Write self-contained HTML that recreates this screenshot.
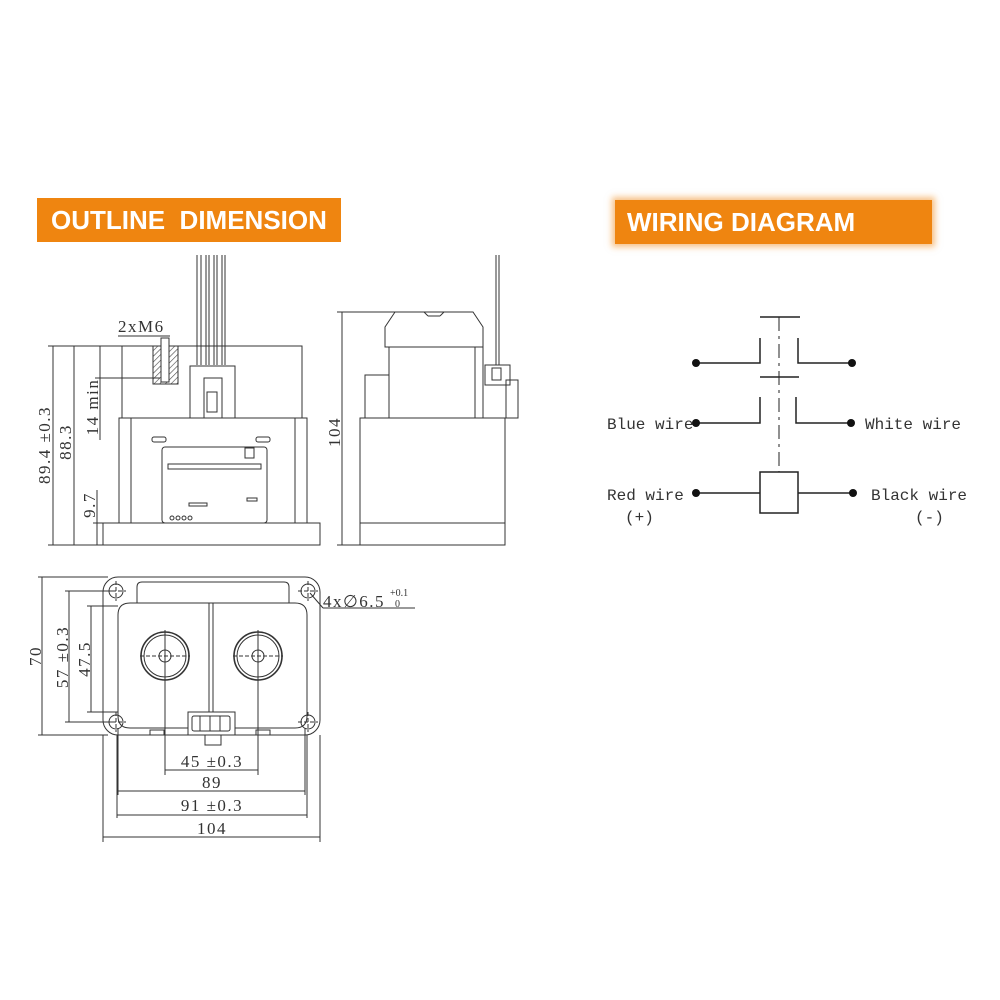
<!DOCTYPE html>
<html><head><meta charset="utf-8">
<style>
html,body{margin:0;padding:0;background:#fff;}
.ban{position:absolute;background:#ef8510;color:#fff;font-family:"Liberation Sans",sans-serif;font-weight:bold;font-size:26px;line-height:44px;transform-origin:left;}
</style></head>
<body>
<div style="position:relative;width:1000px;height:1000px;overflow:hidden;">
<div class="ban" style="left:37px;top:198px;width:304px;height:44px;padding-left:14px;box-sizing:border-box;letter-spacing:0px;">OUTLINE&nbsp; DIMENSION</div>
<div class="ban" style="left:615px;top:200px;width:317px;height:44px;padding-left:12px;box-sizing:border-box;box-shadow:0 0 6px 3px rgba(239,133,16,0.5);">WIRING DIAGRAM</div>
<svg width="1000" height="1000" style="position:absolute;left:0;top:0" xmlns="http://www.w3.org/2000/svg">
<defs>
<pattern id="h" width="4" height="4" patternUnits="userSpaceOnUse" patternTransform="rotate(45)"><line x1="0" y1="0" x2="0" y2="4" stroke="#444" stroke-width="1.2"/></pattern>
</defs>
<g fill="none" stroke="#333" stroke-width="1">
<rect x="122" y="346" width="180" height="72"/>
<rect x="119" y="418" width="188" height="105"/>
<line x1="131" y1="418" x2="131" y2="523"/><line x1="295" y1="418" x2="295" y2="523"/>
<rect x="103" y="523" width="217" height="22"/>
<rect x="162" y="447" width="105" height="76" rx="3"/>
<rect x="152" y="437" width="14" height="5" rx="2"/><rect x="256" y="437" width="14" height="5" rx="2"/>
<rect x="168" y="464" width="93" height="5"/>
<rect x="245" y="448" width="9" height="10"/>
<rect x="189" y="503" width="18" height="3"/><rect x="247" y="498" width="10" height="3"/>
<circle cx="172" cy="518" r="2"/><circle cx="178" cy="518" r="2"/><circle cx="184" cy="518" r="2"/><circle cx="190" cy="518" r="2"/>
<rect x="153" y="346" width="25" height="38" fill="url(#h)"/>
<rect x="161" y="338" width="8" height="44" fill="#fff"/>
<line x1="118" y1="336" x2="170" y2="336"/>
<line x1="197" y1="255" x2="197" y2="365"/><line x1="201" y1="255" x2="201" y2="365"/>
<line x1="206" y1="255" x2="206" y2="365"/><line x1="209" y1="255" x2="209" y2="365"/>
<line x1="214" y1="255" x2="214" y2="365"/><line x1="217" y1="255" x2="217" y2="365"/>
<line x1="222" y1="255" x2="222" y2="365"/><line x1="225" y1="255" x2="225" y2="365"/>
<rect x="190" y="366" width="45" height="52" fill="#fff"/>
<rect x="204" y="378" width="18" height="40"/>
<rect x="207" y="392" width="10" height="20"/>
<line x1="53" y1="346" x2="53" y2="545"/><line x1="48" y1="346" x2="122" y2="346"/>
<line x1="48" y1="545" x2="103" y2="545"/>
<line x1="74" y1="346" x2="74" y2="545"/>
<line x1="100" y1="346" x2="100" y2="440"/><line x1="95" y1="378" x2="160" y2="378"/>
<line x1="97" y1="490" x2="97" y2="545"/><line x1="93" y1="523" x2="103" y2="523"/>
<line x1="342" y1="312" x2="342" y2="545"/><line x1="337" y1="312" x2="395" y2="312"/><line x1="337" y1="545" x2="360" y2="545"/>
<polyline points="395,312 473,312 483,327 483,347 385,347 385,327 395,312"/>
<line x1="424" y1="312" x2="428" y2="316"/><line x1="440" y1="316" x2="428" y2="316"/><line x1="440" y1="316" x2="444" y2="312"/>
<rect x="389" y="347" width="86" height="71"/>
<polyline points="389,375 365,375 365,418"/>
<line x1="483" y1="347" x2="483" y2="418"/>
<rect x="360" y="418" width="145" height="127"/>
<line x1="360" y1="523" x2="505" y2="523"/>
<line x1="496" y1="255" x2="496" y2="365"/><line x1="499" y1="255" x2="499" y2="365"/>
<rect x="485" y="365" width="25" height="20"/><rect x="492" y="368" width="9" height="12"/>
<rect x="506" y="380" width="12" height="38"/>
<rect x="103" y="577" width="217" height="158" rx="15"/>
<path d="M137,603 L137,587 Q137,582 142,582 L284,582 Q289,582 289,587 L289,603"/>
<path d="M130,603 L295,603 Q307,603 307,615 L307,716 Q307,728 295,728 L130,728 Q118,728 118,716 L118,615 Q118,603 130,603 Z"/>
<line x1="209" y1="603" x2="209" y2="712"/><line x1="213" y1="603" x2="213" y2="712"/>
<circle cx="116" cy="591" r="7"/><circle cx="308" cy="591" r="7"/><circle cx="116" cy="722" r="7"/><circle cx="308" cy="722" r="7"/>
<g stroke-dasharray="4,2"><line x1="106" y1="591" x2="126" y2="591"/><line x1="116" y1="581" x2="116" y2="601"/>
<line x1="298" y1="591" x2="318" y2="591"/><line x1="308" y1="581" x2="308" y2="601"/>
<line x1="106" y1="722" x2="126" y2="722"/><line x1="116" y1="712" x2="116" y2="732"/>
<line x1="298" y1="722" x2="318" y2="722"/><line x1="308" y1="712" x2="308" y2="732"/></g>
<circle cx="165" cy="656" r="24" stroke-width="1.6"/><circle cx="165" cy="656" r="21"/><circle cx="165" cy="656" r="6"/>
<circle cx="258" cy="656" r="24" stroke-width="1.6"/><circle cx="258" cy="656" r="21"/><circle cx="258" cy="656" r="6"/>
<g stroke-dasharray="4,2"><line x1="140" y1="656" x2="190" y2="656"/><line x1="233" y1="656" x2="283" y2="656"/></g>
<line x1="165" y1="630" x2="165" y2="775"/><line x1="258" y1="630" x2="258" y2="775"/>
<rect x="150" y="730" width="14" height="5"/><rect x="256" y="730" width="14" height="5"/>
<rect x="188" y="712" width="47" height="23" fill="#fff"/>
<rect x="192" y="716" width="38" height="15" rx="2"/>
<line x1="200" y1="716" x2="200" y2="731"/><line x1="210" y1="716" x2="210" y2="731"/><line x1="220" y1="716" x2="220" y2="731"/>
<rect x="205" y="735" width="16" height="10"/>
<line x1="42" y1="577" x2="42" y2="735"/><line x1="38" y1="577" x2="108" y2="577"/><line x1="38" y1="735" x2="108" y2="735"/>
<line x1="69" y1="591" x2="69" y2="722"/><line x1="65" y1="591" x2="116" y2="591"/><line x1="65" y1="722" x2="116" y2="722"/>
<line x1="91" y1="606" x2="91" y2="712"/><line x1="87" y1="606" x2="118" y2="606"/><line x1="87" y1="712" x2="118" y2="712"/>
<line x1="165" y1="770" x2="258" y2="770"/>
<line x1="118" y1="728" x2="118" y2="795"/><line x1="305" y1="728" x2="305" y2="795"/>
<line x1="118" y1="791" x2="305" y2="791"/>
<line x1="117" y1="735" x2="117" y2="818"/><line x1="307" y1="735" x2="307" y2="818"/>
<line x1="117" y1="815" x2="307" y2="815"/>
<line x1="103" y1="735" x2="103" y2="842"/><line x1="320" y1="735" x2="320" y2="842"/>
<line x1="103" y1="837" x2="320" y2="837"/>
<line x1="310" y1="593" x2="323" y2="608"/><line x1="323" y1="608" x2="415" y2="608"/>
</g>
<g font-family="Liberation Serif,serif" font-size="17" fill="#333" letter-spacing="1.5">
<text x="118" y="332">2xM6</text>
<text transform="translate(50,445) rotate(-90)" text-anchor="middle">89.4 ±0.3</text>
<text transform="translate(71,442) rotate(-90)" text-anchor="middle">88.3</text>
<text transform="translate(98,407) rotate(-90)" text-anchor="middle">14 min</text>
<text transform="translate(95,505) rotate(-90)" text-anchor="middle">9.7</text>
<text transform="translate(340,432) rotate(-90)" text-anchor="middle">104</text>
<text transform="translate(41,656) rotate(-90)" text-anchor="middle">70</text>
<text transform="translate(68,657) rotate(-90)" text-anchor="middle">57 ±0.3</text>
<text transform="translate(90,659) rotate(-90)" text-anchor="middle">47.5</text>
<text x="212" y="767" text-anchor="middle">45 ±0.3</text>
<text x="212" y="788" text-anchor="middle">89</text>
<text x="212" y="811" text-anchor="middle">91 ±0.3</text>
<text x="212" y="834" text-anchor="middle">104</text>
<text x="323" y="607">4x∅6.5</text>
<text x="390" y="596" font-size="10" letter-spacing="0">+0.1</text>
<text x="395" y="607" font-size="10" letter-spacing="0">0</text>
</g>
<g stroke="#222" stroke-width="1.5" fill="none">
<line x1="760" y1="317" x2="800" y2="317"/><line x1="760" y1="377" x2="799" y2="377"/>
<line x1="779" y1="317" x2="779" y2="472" stroke-width="1" stroke-dasharray="14,5,3,5"/>
<polyline points="696,363 760,363 760,338"/><polyline points="852,363 798,363 798,338"/>
<polyline points="696,423 760,423 760,397"/><polyline points="851,423 796,423 796,397"/>
<rect x="760" y="472" width="38" height="41"/>
<line x1="696" y1="493" x2="760" y2="493"/><line x1="798" y1="493" x2="853" y2="493"/>
</g>
<g fill="#111"><circle cx="696" cy="363" r="4"/><circle cx="852" cy="363" r="4"/><circle cx="696" cy="423" r="4"/><circle cx="851" cy="423" r="4"/><circle cx="696" cy="493" r="4"/><circle cx="853" cy="493" r="4"/></g>
<g font-family="Liberation Mono,monospace" font-size="16" fill="#333">
<text x="607" y="429">Blue wire</text>
<text x="865" y="429">White wire</text>
<text x="607" y="500">Red wire</text>
<text x="625" y="522">(+)</text>
<text x="871" y="500">Black wire</text>
<text x="915" y="522">(-)</text>
</g>
</svg>
</div>
</body></html>
